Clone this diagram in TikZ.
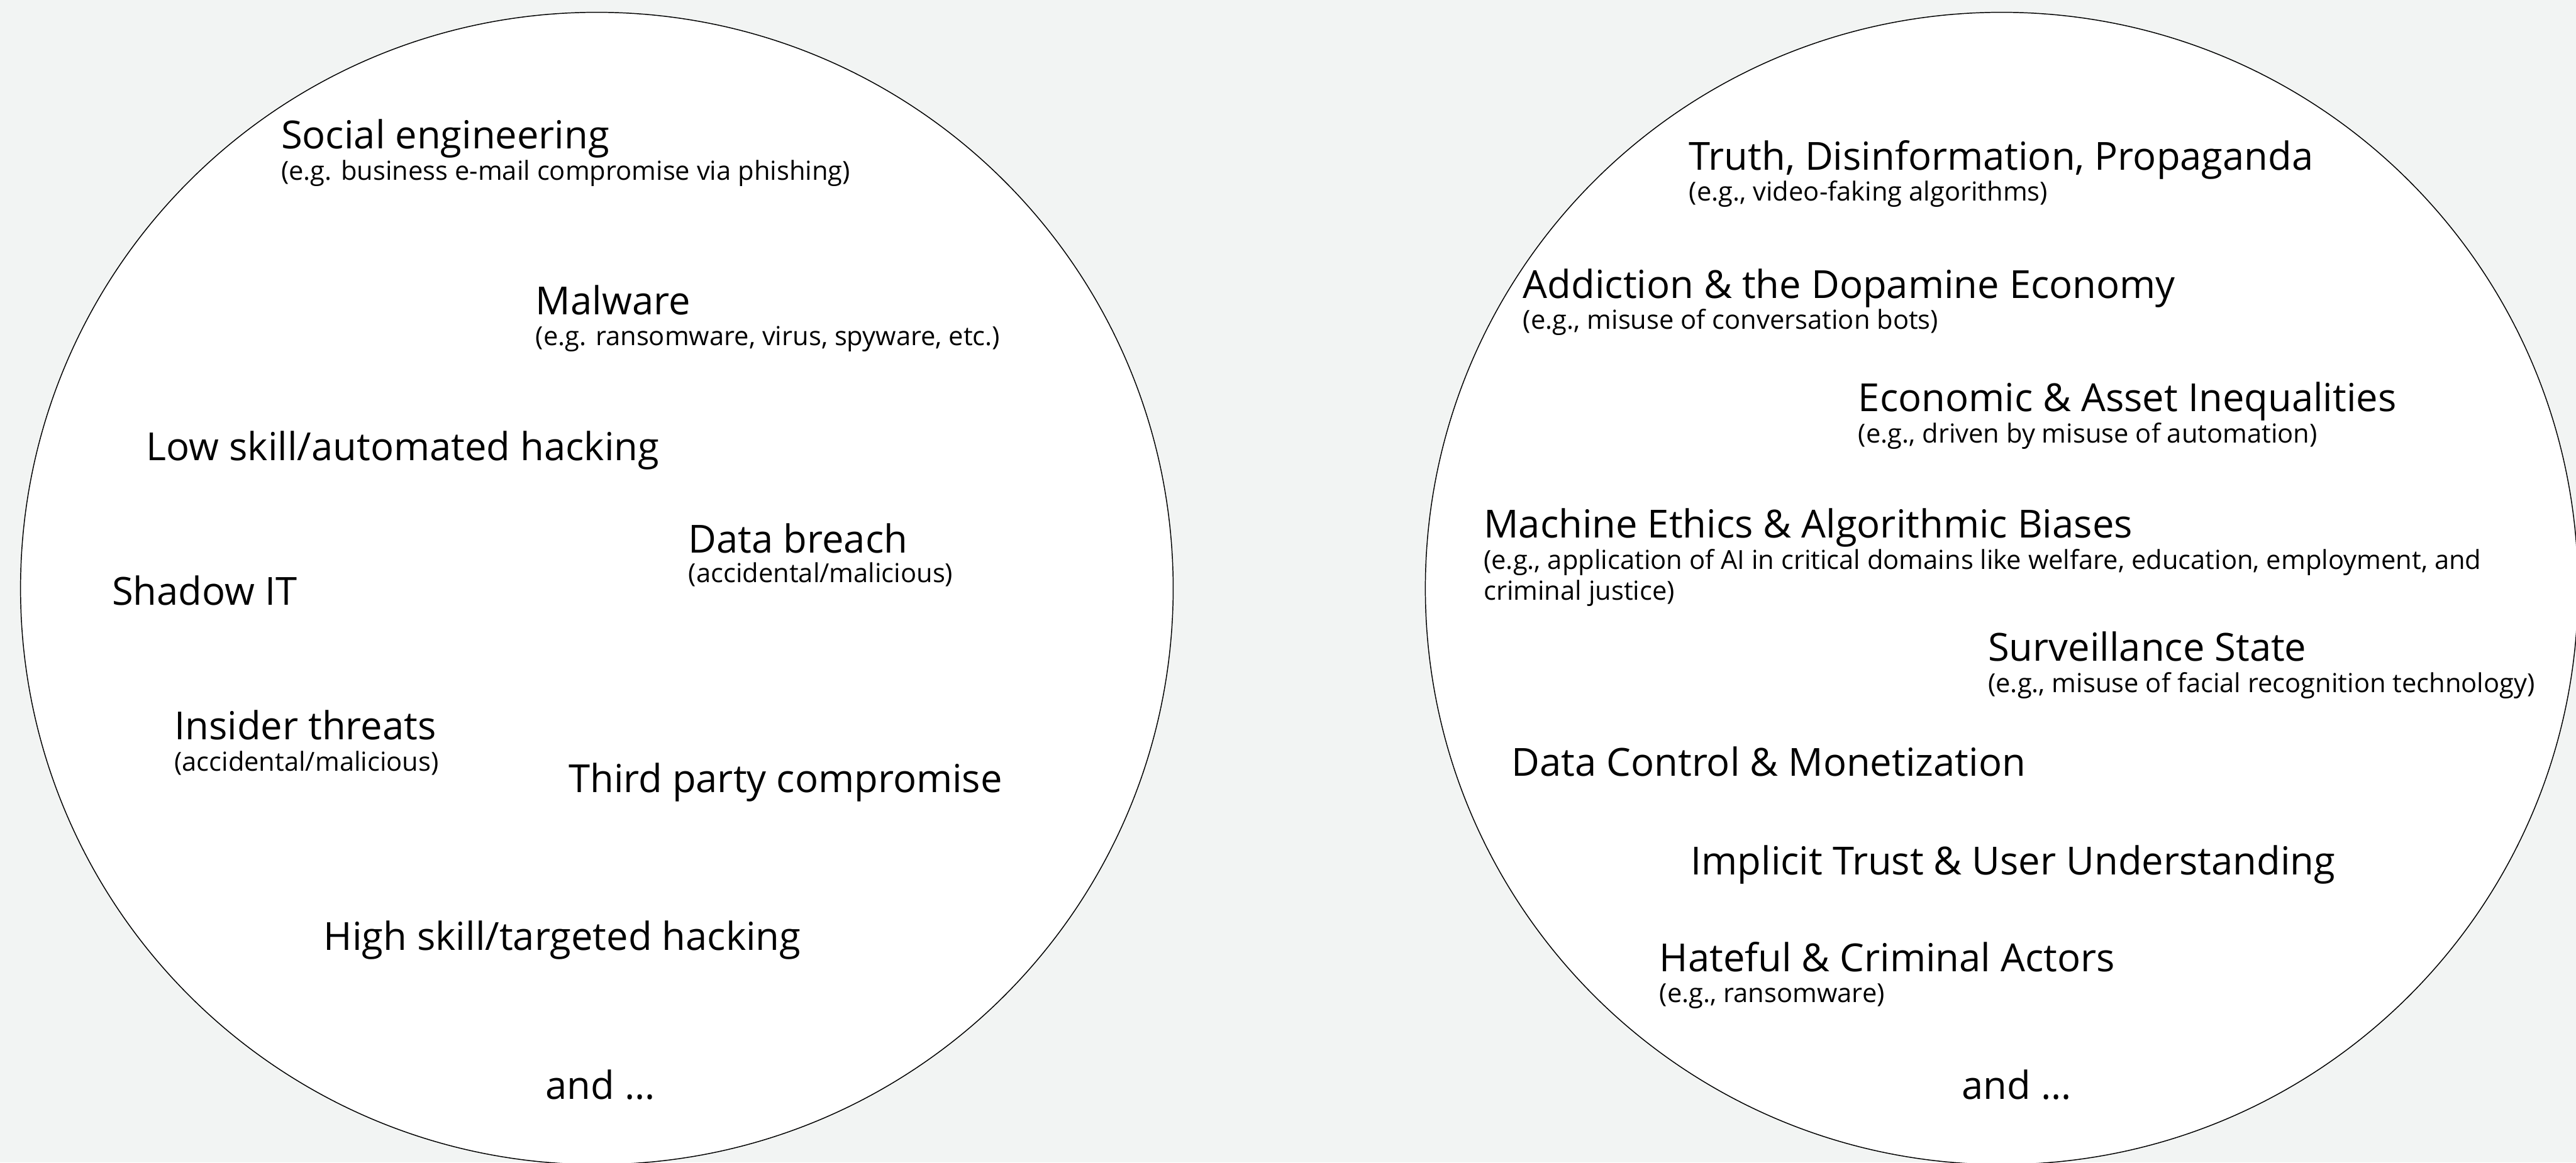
\documentclass[tikz,border=0pt]{standalone}
\usepackage{fontspec}
\setmainfont{Open Sans}
\definecolor{paper}{RGB}{242,244,243}

\tikzset{
  ring/.style={draw=black, line width=0.8pt, fill=white},
  topic/.style={anchor=base west, inner sep=0pt, font=\fontsize{33.5}{38}\selectfont},
  example/.style={anchor=base west, inner sep=0pt, align=left, font=\fontsize{22.7}{27}\selectfont},
}

\begin{document}
\begin{tikzpicture}[x=0.5mm, y=-0.5mm]
  \fill[paper] (0,0) rectangle (1568,708);
  \useasboundingbox (0,0) rectangle (1568,708);
  % the two circles
  \draw[ring] (363.3,358.3) coordinate (cyber) circle [radius=350.8];
  \draw[ring] (1218.4,358.3) coordinate (ethics) circle [radius=350.8];

  % cyber risks
  \node[topic] at (171,90.5) (social) {Social engineering};
  \node[example] at (171,109.5) (socialx) {(e.g. business e-mail compromise via phishing)};
  \node[topic] at (326,191.5) (malware) {Malware};
  \node[example] at (326,210.5) (malwarex) {(e.g. ransomware, virus, spyware, etc.)};
  \node[topic] at (89,280.5) (lowskill) {Low skill/automated hacking};
  \node[topic] at (419,336.5) (breach) {Data breach};
  \node[example] at (419,354.5) (breachx) {(accidental/malicious)};
  \node[topic] at (68,368.5) (shadow) {Shadow IT};
  \node[topic] at (106,450.5) (insider) {Insider threats};
  \node[example] at (106,469.5) (insiderx) {(accidental/malicious)};
  \node[topic] at (346,482.5) (thirdparty) {Third party compromise};
  \node[topic] at (197,578.5) (highskill) {High skill/targeted hacking};
  \node[topic] at (332,669.5) (andleft) {and \dots};

  % ethical risks
  \node[topic] at (1028,103.5) (truth) {Truth, Disinformation, Propaganda};
  \node[example] at (1028,122.5) (truthx) {(e.g., video-faking algorithms)};
  \node[topic] at (927,181.5) (addiction) {Addiction \& the Dopamine Economy};
  \node[example] at (927,200.5) (addictionx) {(e.g., misuse of conversation bots)};
  \node[topic] at (1131,250.5) (economic) {Economic \& Asset Inequalities};
  \node[example] at (1131,269.5) (economicx) {(e.g., driven by misuse of automation)};
  \node[topic] at (903,327.5) (machine) {Machine Ethics \& Algorithmic Biases};
  \node[example] at (903,365.5) (machinex) {(e.g., application of AI in critical domains like welfare, education, employment, and\\criminal justice)};
  \node[topic] at (1210,402.5) (surveil) {Surveillance State};
  \node[example] at (1210,421.5) (surveilx) {(e.g., misuse of facial recognition technology)};
  \node[topic] at (920,472.5) (datactl) {Data Control \& Monetization};
  \node[topic] at (1029,532.5) (trust) {Implicit Trust \& User Understanding};
  \node[topic] at (1010,591.5) (hateful) {Hateful \& Criminal Actors};
  \node[example] at (1010,610.5) (hatefulx) {(e.g., ransomware)};
  \node[topic] at (1194,669.5) (andright) {and \dots};
\end{tikzpicture}
\end{document}
